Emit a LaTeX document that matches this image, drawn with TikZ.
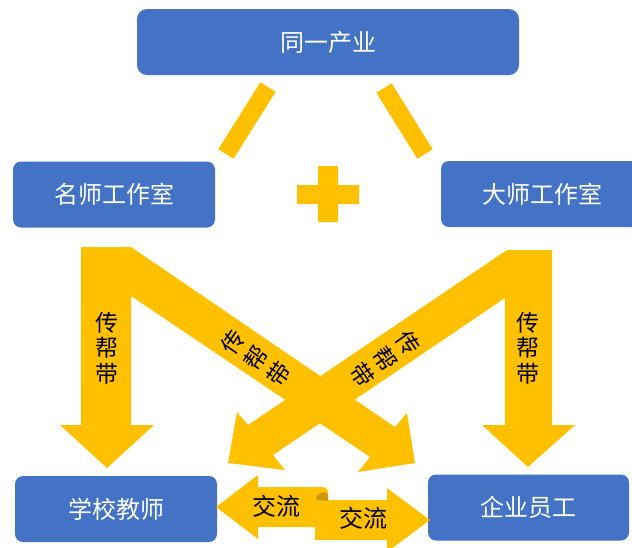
\documentclass[tikz,border=0pt]{standalone}
\usepackage{fontspec}
\setmainfont{Noto Sans CJK SC}
\usetikzlibrary{positioning}
\definecolor{zblue}{HTML}{4472C4}
\definecolor{zyellow}{HTML}{FFC000}
\definecolor{zfold}{HTML}{C99A06}
\tikzset{%
  studio/.style={fill=zblue, text=white, rounded corners=8pt, minimum width=202pt, minimum height=66pt, font=\fontsize{24}{26}\selectfont},
  band/.style={fill=zyellow},
  bar/.style={draw=zyellow, line width=18pt},
  tag/.style={text=black, inner sep=0pt, font=\fontsize{24}{26}\selectfont},
  vtag/.style={tag, align=center, font=\fontsize{23}{25.5}\selectfont},
  dtag/.style={vtag, font=\fontsize{23}{28}\selectfont},
}

\begin{document}
\begin{tikzpicture}[x=1pt, y=-1pt]
  \useasboundingbox (0,0) rectangle (632,547);

  \node (cy) [studio, minimum width=382pt, rounded corners=10pt] at (328,42) {同一产业};
  \node (ms) [studio] at (114,194.5) {名师工作室};
  \node (ds) [studio] at (542,194) {大师工作室};
  \node (xx) [studio] at (116,509) {学校教师};
  \node (qy) [studio, minimum width=201pt] at (528.5,507.5) {企业员工};

  % bars and plus
  \coordinate (b1) at (268,87);
  \coordinate (b2) at (226,154);
  \coordinate (b3) at (384,88);
  \coordinate (b4) at (425,154);
  \draw [bar] (b1) -- (b2);
  \draw [bar] (b3) -- (b4);
  \fill [band] (297,185) rectangle (359,204) (318,166) rectangle (338,222);

  % big arrows
  \fill [band] (81,247) -- (131,247) -- (395,427) -- (407,413) -- (415,463)
    -- (358,472) -- (370,457) -- (131,296) -- (131,425) -- (154,425)
    -- (107,468) -- (60,425) -- (81,425) -- cycle;
  \fill [band] (552,250) -- (507,250) -- (248,425) -- (237,412) -- (228,463)
    -- (285,470) -- (273,455) -- (505,298) -- (505,425) -- (482,425)
    -- (528,467) -- (575,425) -- (552,425) -- cycle;

  \node (t1) [vtag] at (107,348) {传\\帮\\带};
  \node (t2) [vtag] at (528,348) {传\\帮\\带};
  \node (t3) [dtag, rotate=55] at (256,358) {传\\帮\\带};
  \node (t4) [dtag, rotate=-55] at (385,359) {传\\帮\\带};

  % exchange
  \fill [band] (216,507) -- (258,475) -- (258,487) -- (322,487)
    .. controls (326,487) and (328,489) .. (328,493) -- (328,527)
    -- (258,527) -- (258,539) -- cycle;
  \fill [band] (430,520) -- (387,488) -- (387,500) -- (315,500)
    -- (315,540) -- (387,540) -- (387,552) -- cycle;
  \fill [zfold] (316,500) .. controls (316,493) and (324,490) .. (328,494)
    -- (328,501) -- cycle;

  \node (j1) [tag] at (276,506) {交流};
  \node (j2) [tag] at (363,518) {交流};
\end{tikzpicture}
\end{document}
